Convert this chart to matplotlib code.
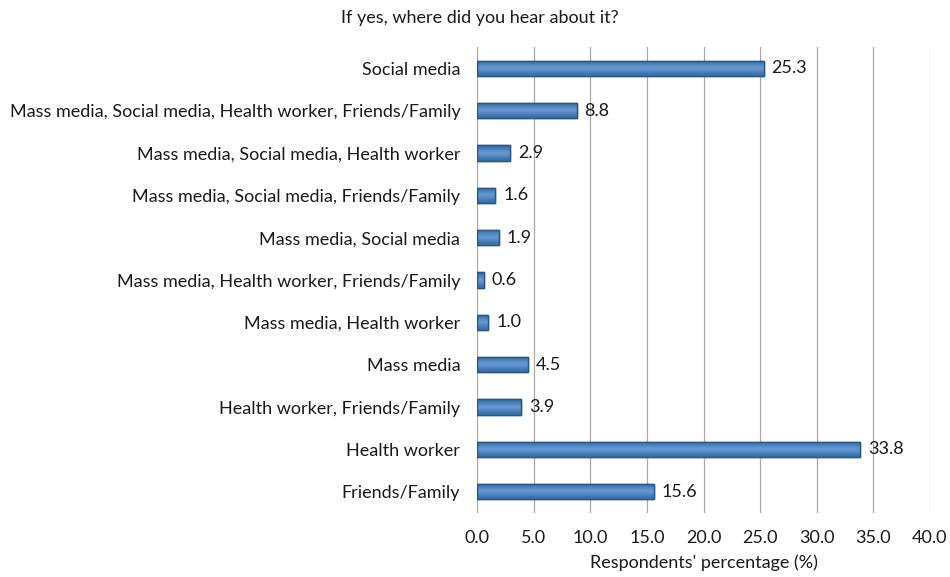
import matplotlib
matplotlib.use('Agg')
import matplotlib.pyplot as plt
import numpy as np

plt.rcParams['font.family'] = ['Lato', 'DejaVu Sans']

categorias = ['Friends/Family', 'Health worker', 'Health worker, Friends/Family',
              'Mass media', 'Mass media, Health worker',
              'Mass media, Health worker, Friends/Family', 'Mass media, Social media',
              'Mass media, Social media, Friends/Family',
              'Mass media, Social media, Health worker',
              'Mass media, Social media, Health worker, Friends/Family', 'Social media']
valores = [15.6, 33.8, 3.9, 4.5, 1.0, 0.6, 1.9, 1.6, 2.9, 8.8, 25.3]
ticks_x = [0, 5, 10, 15, 20, 25, 30, 35, 40]

fig = plt.figure(figsize=(9.5, 5.77), dpi=100)
ax = fig.add_axes([477 / 950, 1 - 513 / 577, (930 - 477) / 950, (513 - 47) / 577])

y = np.arange(len(categorias))
barras = ax.barh(y, valores, height=0.36, color='#4F81BD', edgecolor='#2A5687',
                 linewidth=1.0, zorder=3)

# degradado vertical dentro de cada barra
grad = np.array([[0.0], [0.5], [1.0], [0.5], [0.0]])
cmap = matplotlib.colors.LinearSegmentedColormap.from_list('b', ['#3A6EA8', '#6A9FD8'])
for b in barras:
    x0, y0 = b.get_x(), b.get_y()
    im = ax.imshow(grad, extent=[x0, x0 + b.get_width(), y0, y0 + b.get_height()],
                   aspect='auto', cmap=cmap, zorder=3.5, interpolation='bicubic')
    im.set_clip_path(b)
    ax.add_patch(plt.Rectangle((x0, y0), b.get_width(), b.get_height(), fill=False,
                               edgecolor='#2A5687', linewidth=1.0, zorder=4))

for yi, v in zip(y, valores):
    ax.text(v + 0.7, yi, f'{v:.1f}', va='center', ha='left', fontsize=13, color='#1a1a1a')

ax.set_xlim(0, 40)
ax.set_ylim(-0.5, len(categorias) - 0.5)
ax.set_xticks(ticks_x)
ax.set_xticklabels([f'{t:.1f}' for t in ticks_x], fontsize=13, color='#1a1a1a')
ax.set_yticks(y)
ax.set_yticklabels(categorias, fontsize=13, color='#1a1a1a')
ax.tick_params(axis='y', length=0, pad=12)
ax.tick_params(axis='x', length=0, pad=12)
ax.grid(axis='x', color='#A8A8A8', linewidth=0.9, zorder=0)
for s in ax.spines.values():
    s.set_visible(False)

ax.set_xlabel("Respondents' percentage (%)", fontsize=13, color='#1a1a1a', labelpad=6)
fig.text(480 / 950, 1 - 18 / 577, 'If yes, where did you hear about it?', ha='center',
         va='center', fontsize=13, color='#1a1a1a')

fig.savefig('out.png', dpi=100)
